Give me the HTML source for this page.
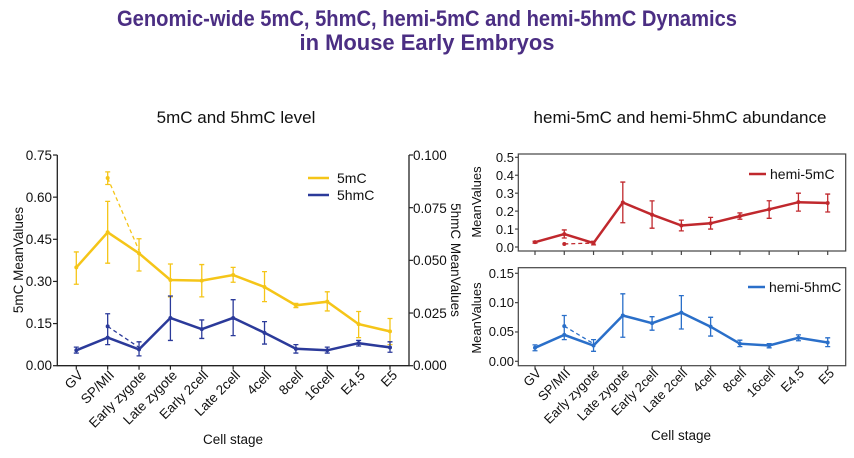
<!DOCTYPE html>
<html><head><meta charset="utf-8"><style>
html,body{margin:0;padding:0;background:#fff;}
svg{display:block;font-family:"Liberation Sans",Arial,sans-serif;}
</style></head><body>
<svg id="s" width="854" height="458" viewBox="0 0 854 458" xmlns="http://www.w3.org/2000/svg">
<text x="427" y="26" text-anchor="middle" font-size="22" font-weight="bold" fill="#4b2e83" textLength="620" lengthAdjust="spacingAndGlyphs">Genomic-wide 5mC, 5hmC, hemi-5mC and hemi-5hmC Dynamics</text>
<text x="427" y="50" text-anchor="middle" font-size="22" font-weight="bold" fill="#4b2e83" textLength="255" lengthAdjust="spacingAndGlyphs">in Mouse Early Embryos</text>
<text x="236" y="123" text-anchor="middle" font-size="17" fill="#111">5mC and 5hmC level</text>
<text x="680" y="123" text-anchor="middle" font-size="17" fill="#111">hemi-5mC and hemi-5hmC abundance</text>

<g stroke="#222" stroke-width="1.3" fill="none">
<path d="M57.3,155 V365.7 H409 V155"/>
</g>
<g font-size="13.5" fill="#111" text-anchor="end">
<text x="52" y="160">0.75</text><text x="52" y="202">0.60</text><text x="52" y="244">0.45</text><text x="52" y="286">0.30</text><text x="52" y="328">0.15</text><text x="52" y="370">0.00</text>
</g>
<g font-size="13.5" fill="#111">
<text x="413" y="160">0.100</text><text x="413" y="213">0.075</text><text x="413" y="265">0.050</text><text x="413" y="318">0.025</text><text x="413" y="370">0.000</text>
</g>
<text transform="translate(23,260) rotate(-90)" text-anchor="middle" font-size="13.5" fill="#111">5mC MeanValues</text>
<text transform="translate(451,260) rotate(90)" text-anchor="middle" font-size="13.5" fill="#111">5hmC MeanValues</text>
<g font-size="13.5" fill="#111" text-anchor="end">
<text transform="translate(84,376) rotate(-45)">GV</text>
<text transform="translate(115,376) rotate(-45)">SP/MII</text>
<text transform="translate(147,376) rotate(-45)">Early zygote</text>
<text transform="translate(178,376) rotate(-45)">Late zygote</text>
<text transform="translate(209,376) rotate(-45)">Early 2cell</text>
<text transform="translate(241,376) rotate(-45)">Late 2cell</text>
<text transform="translate(272,376) rotate(-45)">4cell</text>
<text transform="translate(304,376) rotate(-45)">8cell</text>
<text transform="translate(335,376) rotate(-45)">16cell</text>
<text transform="translate(366,376) rotate(-45)">E4.5</text>
<text transform="translate(398,376) rotate(-45)">E5</text>
</g>
<text x="233" y="444" text-anchor="middle" font-size="13.5" fill="#111">Cell stage</text>
<line x1="308" y1="178" x2="329" y2="178" stroke="#f5c518" stroke-width="2.5"/>
<line x1="308" y1="195" x2="329" y2="195" stroke="#2b3a9a" stroke-width="2.5"/>
<text x="337" y="183" font-size="14" fill="#111">5mC</text>
<text x="337" y="200" font-size="14" fill="#111">5hmC</text>

<rect x="518.3" y="154" width="327.4" height="97" fill="none" stroke="#444" stroke-width="1.2"/>
<rect x="518.3" y="267.7" width="327.4" height="98" fill="none" stroke="#444" stroke-width="1.2"/>
<g font-size="13" fill="#111" text-anchor="end">
<text x="514" y="162">0.5</text><text x="514" y="180">0.4</text><text x="514" y="198">0.3</text><text x="514" y="216">0.2</text><text x="514" y="234">0.1</text><text x="514" y="252">0.0</text>
<text x="514" y="278">0.15</text><text x="514" y="307">0.10</text><text x="514" y="336">0.05</text><text x="514" y="366">0.00</text>
</g>
<text transform="translate(481,202) rotate(-90)" text-anchor="middle" font-size="13" fill="#111">MeanValues</text>
<text transform="translate(481,318) rotate(-90)" text-anchor="middle" font-size="13" fill="#111">MeanValues</text>
<g font-size="13" fill="#111" text-anchor="end">
<text transform="translate(542,374) rotate(-45)">GV</text>
<text transform="translate(571,374) rotate(-45)">SP/MII</text>
<text transform="translate(600,374) rotate(-45)">Early zygote</text>
<text transform="translate(630,374) rotate(-45)">Late zygote</text>
<text transform="translate(659,374) rotate(-45)">Early 2cell</text>
<text transform="translate(688,374) rotate(-45)">Late 2cell</text>
<text transform="translate(717,374) rotate(-45)">4cell</text>
<text transform="translate(747,374) rotate(-45)">8cell</text>
<text transform="translate(776,374) rotate(-45)">16cell</text>
<text transform="translate(805,374) rotate(-45)">E4.5</text>
<text transform="translate(835,374) rotate(-45)">E5</text>
</g>
<text x="681" y="440" text-anchor="middle" font-size="13.5" fill="#111">Cell stage</text>
<line x1="749" y1="174" x2="766" y2="174" stroke="#c0282d" stroke-width="2.5"/>
<text x="770" y="179" font-size="14" fill="#111">hemi-5mC</text>
<line x1="748" y1="287" x2="765" y2="287" stroke="#2a6fc9" stroke-width="2.5"/>
<text x="769" y="292" font-size="14" fill="#111">hemi-5hmC</text>
<g id="d"></g>
</svg>
<script>
var g=document.getElementById('d'),ns='http://www.w3.org/2000/svg';
function el(t,a){var e=document.createElementNS(ns,t);for(var k in a)e.setAttribute(k,a[k]);g.appendChild(e);return e;}
function series(x0,st,y0,sc,v,lo,hi,c,dash){
 var p=v.map(function(val,i){return (x0+i*st).toFixed(1)+','+(y0-val*sc).toFixed(1)}).join(' ');
 v.forEach(function(val,i){var x=x0+i*st;el('path',{d:'M'+x+','+(y0-lo[i]*sc)+'V'+(y0-hi[i]*sc)+'M'+(x-2.5)+','+(y0-lo[i]*sc)+'h5M'+(x-2.5)+','+(y0-hi[i]*sc)+'h5',stroke:c,'stroke-width':1.3,fill:'none'});});
 el('polyline',{points:p,stroke:c,'stroke-width':2.5,fill:'none'});
 v.forEach(function(val,i){el('circle',{cx:x0+i*st,cy:y0-val*sc,r:2,fill:c});});
 el('path',{d:'M'+(x0+st)+','+(y0-dash[0]*sc)+'L'+(x0+2*st)+','+(y0-dash[1]*sc),stroke:c,'stroke-width':1.3,'stroke-dasharray':'4,3',fill:'none'});
 el('circle',{cx:x0+st,cy:y0-dash[0]*sc,r:2,fill:c});
}
series(76.3,31.37,365.7,280.9,[0.35,0.475,0.4,0.305,0.303,0.323,0.28,0.215,0.228,0.148,0.122],
[0.29,0.365,0.337,0.245,0.245,0.297,0.228,0.207,0.195,0.1,0.075],[0.405,0.585,0.452,0.362,0.36,0.35,0.335,0.222,0.263,0.193,0.168],'#f5c518',[0.668,0.41]);
var y=365.7,s=280.9;el('path',{d:'M107.7,'+(y-0.645*s)+'V'+(y-0.69*s)+'M105.2,'+(y-0.645*s)+'h5M105.2,'+(y-0.69*s)+'h5',stroke:'#f5c518','stroke-width':1.3,fill:'none'});
series(76.3,31.37,365.7,280.9,[0.055,0.1,0.058,0.17,0.13,0.17,0.117,0.06,0.055,0.08,0.065],
[0.045,0.075,0.035,0.09,0.097,0.107,0.077,0.045,0.045,0.07,0.048],[0.066,0.185,0.085,0.248,0.163,0.235,0.157,0.075,0.066,0.09,0.085],'#2b3a9a',[0.14,0.065]);
series(535,29.27,247,179.4,[0.027,0.072,0.022,0.248,0.18,0.12,0.132,0.172,0.21,0.25,0.245],
[0.022,0.05,0.012,0.135,0.105,0.09,0.1,0.155,0.16,0.2,0.195],[0.032,0.095,0.032,0.362,0.257,0.15,0.165,0.19,0.258,0.3,0.295],'#c0282d',[0.017,0.022]);
series(535,29.27,361.3,586.7,[0.023,0.045,0.027,0.078,0.065,0.083,0.059,0.03,0.027,0.04,0.032],
[0.018,0.037,0.017,0.041,0.053,0.055,0.043,0.025,0.023,0.035,0.025],[0.028,0.078,0.037,0.115,0.076,0.112,0.075,0.036,0.03,0.045,0.04],'#2a6fc9',[0.06,0.03]);
for(var i=0;i<11;i++){el('path',{d:'M'+(76.3+i*31.37)+',365.7v4',stroke:'#222','stroke-width':1.2});el('path',{d:'M'+(535+i*29.27)+',365.7v4M'+(535+i*29.27)+',251v4',stroke:'#444','stroke-width':1.2});}
[0,.15,.3,.45,.6,.75].forEach(function(v){el('path',{d:'M53,'+(365.7-v*280.9)+'h4.3',stroke:'#222','stroke-width':1.2});});
[0,.025,.05,.075,.1].forEach(function(v){el('path',{d:'M409,'+(365.7-v*2107)+'h4',stroke:'#222','stroke-width':1.2});});
[0,.1,.2,.3,.4,.5].forEach(function(v){el('path',{d:'M515,'+(247-v*179.4)+'h3.3',stroke:'#444','stroke-width':1.2});});
[0,.05,.1,.15].forEach(function(v){el('path',{d:'M515,'+(361.3-v*586.7)+'h3.3',stroke:'#444','stroke-width':1.2});});
</script>
</body></html>
